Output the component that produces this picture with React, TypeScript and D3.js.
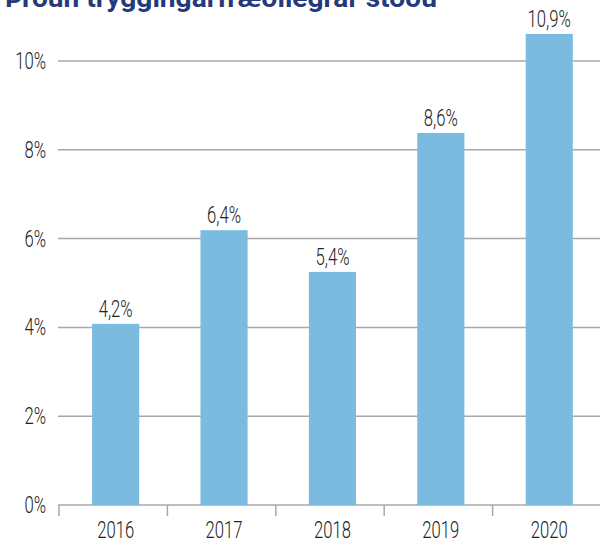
import React from 'react';
import * as d3 from 'd3';

const title = 'Þróun tryggingarfræðilegrar stöðu';
const years = ['2016', '2017', '2018', '2019', '2020'];
// bar heights as drawn in the picture
const values = [4.08, 6.19, 5.25, 8.38, 10.61];
// printed labels above bars
const valueLabels = ['4,2%', '6,4%', '5,4%', '8,6%', '10,9%'];
const yTicks = [0, 2, 4, 6, 8, 10];

const W = 600;
const H = 543;
const SX = 0.71; // horizontal squeeze to fake a condensed face

function App() {
  const y = d3.scaleLinear().domain([0, 10]).range([505, 61]);
  const slot = d3.scaleBand<string>().domain(years).range([59, 601]).padding(0);
  const step = slot.bandwidth();
  const barX = (d: string) => (slot(d) as number) + step * 0.305;
  const barW = step * 0.435;

  const font = 'Roboto, sans-serif';
  const cond = (x: number, yy: number) => `translate(${x},${yy}) scale(${SX},1)`;

  return (
    <svg width={W} height={H} style={{ position: 'absolute', left: 0, top: 0 }}>
      <text x={5} y={7} fontFamily={font} fontWeight={700} fontSize={26}
        fill="#253a7a" textLength={432} lengthAdjust="spacingAndGlyphs">{title}</text>

      {yTicks.map(t => (
        <g key={t}>
          <line x1={58} x2={W} y1={y(t)} y2={y(t)} stroke="#a8a8a8" strokeWidth={1.5} />
          <g transform={cond(46, y(t) + 8)}>
            <text textAnchor="end" fontFamily={font} fontWeight={300} fontSize={23.5} fill="#222">{t}%</text>
          </g>
        </g>
      ))}

      {years.map(d => (
        <line key={'t' + d} x1={slot(d)} x2={slot(d)} y1={y(0)} y2={y(0) + 11}
          stroke="#a8a8a8" strokeWidth={1.5} />
      ))}

      {years.map((d, i) => (
        <g key={'b' + d}>
          <rect x={barX(d)} width={barW} y={y(values[i])} height={y(0) - y(values[i])} fill="#7cbbe0" />
          <g transform={cond(barX(d) + barW / 2, y(values[i]) - 7)}>
            <text textAnchor="middle" fontFamily={font} fontWeight={300} fontSize={23.5} fill="#222">{valueLabels[i]}</text>
          </g>
          <g transform={cond(barX(d) + barW / 2, 538)}>
            <text textAnchor="middle" fontFamily={font} fontWeight={300} fontSize={23.5} fill="#222">{d}</text>
          </g>
        </g>
      ))}
    </svg>
  );
}

export default App;
